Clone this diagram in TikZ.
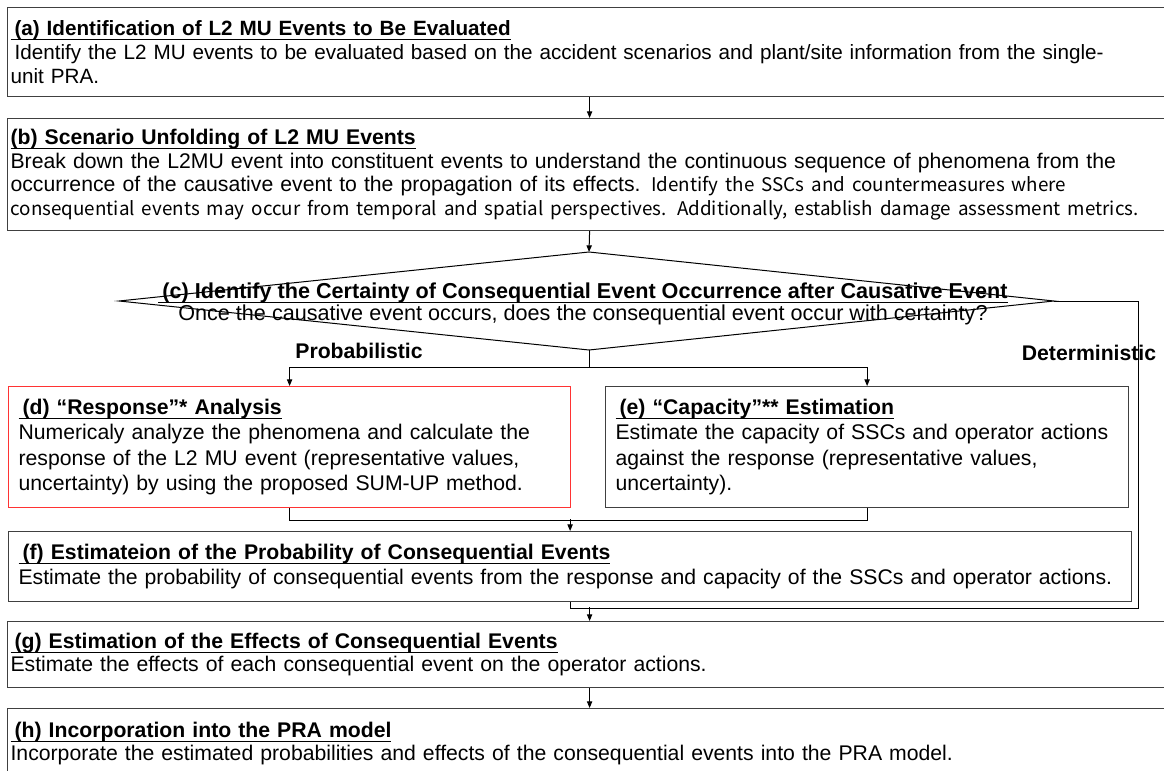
\documentclass[tikz,border=0pt]{standalone}
\usepackage{fontspec}
\setmainfont{Liberation Sans}
\newfontfamily\jpfont{Noto Sans CJK JP}
\usetikzlibrary{arrows.meta, calc}

\newcommand{\jptext}[1]{{\jpfont\fontsize{14.1pt}{17.6pt}\selectfont #1}}
\newcommand{\steptitle}[1]{\textbf{\underline{\raisebox{0pt}[\height][1.2pt]{#1}}}}

\begin{document}
\begin{tikzpicture}[x=0.75pt, y=-0.75pt,
  stepbox/.style={draw=black!75, line width=0.9pt, anchor=north west,
                  align=left, inner xsep=2.25pt, inner ysep=0pt,
                  font=\fontsize{15.9pt}{17.6pt}\selectfont},
  widebox/.style={stepbox, inner xsep=7.5pt},
  lbl/.style={font=\fontsize{15.9pt}{18pt}\selectfont\bfseries},
  arr/.style={-{Triangle[length=5pt, width=4pt]}, line width=0.75pt},
  link/.style={line width=0.75pt}
]
\useasboundingbox (0,0) rectangle (1164,771);
\fill[white] (0,0) rectangle (1164,771);

% (a) and (b)
\node[stepbox, minimum width=873pt, minimum height=66.75pt, text width=868.5pt,
      font=\fontsize{15.5pt}{18pt}\selectfont] (a) at (7,7)
  {\steptitle{\hspace*{3pt}(a) Identification of L2 MU Events to Be Evaluated}\\
   \hspace*{3pt}Identify the L2 MU events to be evaluated based on the accident scenarios and plant/site information from the single-\\
   unit PRA.};
\node[stepbox, minimum width=873pt, minimum height=84pt, text width=868.5pt] (b) at (7,118)
  {\steptitle{(b) Scenario Unfolding of L2 MU Events}\\
   Break down the L2MU event into constituent events to understand the continuous sequence of phenomena from the\\
   occurrence of the causative event to the propagation of its effects. \jptext{Identify the SSCs and countermeasures where}\\
   \jptext{consequential events may occur from temporal and spatial perspectives. Additionally, establish damage assessment metrics.}};

% (c) decision
\coordinate (ctop) at (589,252);
\coordinate (cleft) at (119,301);
\coordinate (cright) at (1054,301);
\coordinate (cbot) at (589,350);
\node[align=center, inner sep=0pt, font=\fontsize{16.2pt}{16.8pt}\selectfont] (c) at (583,304)
  {\steptitle{\hspace*{3pt}(c) Identify the Certainty of Consequential Event Occurrence after Causative Event}\\
   Once the causative event occurs, does the consequential event occur with certainty?};
\draw[link] (ctop) -- (cright) -- (cbot) -- (cleft) -- cycle;

\node[lbl] (prob) at (359,351) {Probabilistic};
\node[lbl] (det) at (1089,353) {Deterministic};

% (d) and (e)
\node[widebox, draw=red!80, minimum width=421.5pt, minimum height=90.75pt, text width=406.5pt,
      font=\fontsize{15.9pt}{19pt}\selectfont] (d) at (8,386)
  {\steptitle{\hspace*{3pt}(d) “Response”* Analysis}\\
   Numericaly analyze the phenomena and calculate the\\
   response of the L2 MU event (representative values,\\
   uncertainty) by using the proposed SUM-UP method.};
\node[widebox, minimum width=392.25pt, minimum height=90.75pt, text width=377.25pt,
      font=\fontsize{15.9pt}{19pt}\selectfont] (e) at (605,386)
  {\steptitle{\hspace*{3pt}(e) “Capacity”** Estimation}\\
   Estimate the capacity of SSCs and operator actions\\
   against the response (representative values,\\
   uncertainty).};

% (f), (g), (h)
\node[widebox, minimum width=842.25pt, minimum height=52.5pt, text width=827.25pt,
      font=\fontsize{15.9pt}{18.75pt}\selectfont] (f) at (8,531)
  {\steptitle{\hspace*{3pt}(f) Estimateion of the Probability of Consequential Events}\\
   Estimate the probability of consequential events from the response and capacity of the SSCs and operator actions.};
\node[stepbox, minimum width=873pt, minimum height=49.5pt, text width=868.5pt] (g) at (7,621)
  {\steptitle{\hspace*{3pt}(g) Estimation of the Effects of Consequential Events}\\
   Estimate the effects of each consequential event on the operator actions.};
\node[stepbox, minimum width=873pt, minimum height=52.5pt, text width=868.5pt] (h) at (7,708)
  {\steptitle{\hspace*{3pt}(h) Incorporation into the PRA model}\\
   Incorporate the estimated probabilities and effects of the consequential events into the PRA model.};

% connectors
\draw[arr] (a.south) -- (b.north);
\draw[arr] (b.south) -- (ctop);
\draw[arr] (cbot) -- ++(0,17) -| (d.north);
\draw[arr] (cbot) -- ++(0,17) -| (e.north);
\draw[link] (d.south) -- ++(0,12) -| (e.south);
\draw[arr] (f.north) ++(0,-12) -- (f.north);
\draw[link] (cright) -- ++(84,0) |- ($(f.south)+(0,6)$) -- (f.south);
\draw[arr] (g.north) ++(0,-14) -- (g.north);
\draw[arr] (g.south) -- (h.north);
\end{tikzpicture}
\end{document}
